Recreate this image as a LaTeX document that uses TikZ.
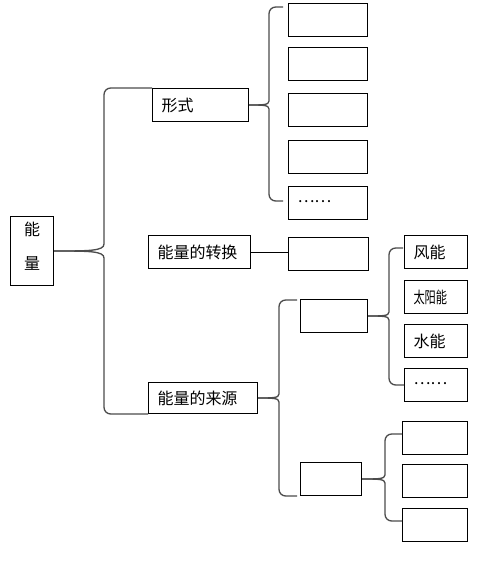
\documentclass[tikz,border=0pt]{standalone}
\usepackage{fontspec}
\usepackage{graphicx}
\newfontfamily\cjk{Noto Sans CJK SC}
\usetikzlibrary{calc}

% curly bracket from a source node to an upper and a lower end
\newcommand\fork[5]{%
  \draw[arm] (#1.east) .. controls +(#2*0.7,0) and +(0,#3) .. ++(#2,-#3) [rounded corners=5pt] |- (#4);
  \draw[arm] (#1.east) .. controls +(#2*0.7,0) and +(0,-#3) .. ++(#2,#3) [rounded corners=5pt] |- (#5);
}
\newcommand\etcdots{\raisebox{2.5pt}{……}}

\begin{document}
\begin{tikzpicture}[x=0.75pt, y=-0.75pt,
  box/.style={draw, line width=0.75pt, anchor=north west, minimum height=24.75pt,
              inner xsep=6.75pt, inner ysep=0pt, align=left,
              font=\cjk\fontsize{12pt}{14pt}\selectfont},
  arm/.style={draw=black!70, line width=1pt}]
\useasboundingbox (0,0) rectangle (476,576);

\node[box, minimum width=32.25pt, minimum height=51.75pt, align=center] (nl) at (10,216) {能\\[12pt]量\\[-6pt]};

\node[box, text width=58.5pt] (xs) at (152,88) {形式};
\node[box, text width=63pt] (zh) at (148,235) {能量的转换};
\node[box, text width=68.25pt, minimum height=23.25pt] (ly) at (148,382) {能量的来源};

% forms
\foreach \y/\t [count=\i] in {3/{},47/{},93/{},140/{},186/\etcdots}
  \node[box, text width=45.75pt] (f\i) at (288,\y) {\t};

\node[box, minimum width=60pt] (z1) at (288,237) {};

\node[box, minimum width=50.25pt] (sa) at (300,299) {};
\node[box, minimum width=45.75pt] (sb) at (300,462) {};

% sources
\foreach \y/\t [count=\i] in {235/风能,280/{\scalebox{0.7}[1]{太阳能}},324/水能,368/\etcdots}
  \node[box, text width=33.75pt] (w\i) at (404,\y) {\t};

\foreach \y [count=\i] in {421,464,508}
  \node[box, minimum width=48.75pt] (b\i) at (402,\y) {};

\fork{nl}{50}{7}{xs.north west}{ly.south west}
\fork{xs}{20}{4}{$(f1.north west)+(-5,4)$}{$(f5.west)+(-5,-2)$}
\fork{ly}{21}{4}{$(sa.north west)+(-3,1)$}{$(sb.south west)+(-3,0)$}
\fork{sa}{21}{4}{$(w1.west)+(-1,-4)$}{w4.west}
\fork{sb}{23}{4}{$(b1.west)+(0,-4)$}{$(b3.west)+(0,-4)$}

\draw[line width=0.75pt] (zh.east) -- (zh.east -| z1.west);

\end{tikzpicture}
\end{document}
